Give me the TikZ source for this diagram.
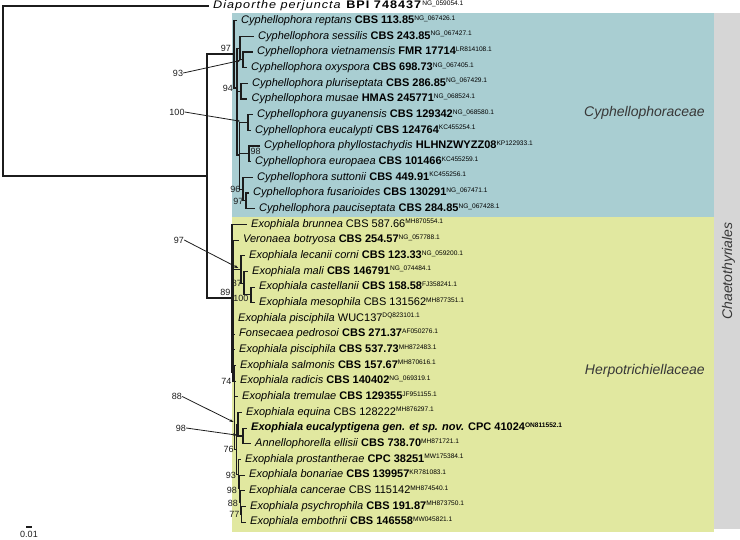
\documentclass[tikz,border=0pt]{standalone}
\usepackage{fontspec}
\setmainfont{Liberation Sans}
\usepackage{xcolor}
\usepackage{tikz}
\usetikzlibrary{arrows.meta}
\definecolor{cyphblue}{HTML}{A9CED2}
\definecolor{herpoyellow}{HTML}{E1E8A0}
\definecolor{ordergrey}{HTML}{D6D6D6}
\definecolor{treeblack}{HTML}{1C1C1C}
\newcommand{\gbAcc}[1]{\raisebox{3.3pt}{\fontsize{6.6}{7}\selectfont #1}}
\newcommand{\taxonB}[3]{\textit{#1} \textbf{#2}\gbAcc{#3}}
\newcommand{\taxonR}[3]{\textit{#1} #2\gbAcc{#3}}

\begin{document}
\begin{tikzpicture}[x=1pt, y=-1pt,
  branch/.style={draw=treeblack, line width=1.1pt},
  tip/.style={anchor=west, inner xsep=4.5pt, inner ysep=0pt, text height=8pt, text depth=2.5pt,
              font=\fontsize{11}{13}\selectfont},
  bsv/.style={inner sep=0pt, font=\fontsize{9}{10}\selectfont, text=treeblack},
  ldr/.style={draw=treeblack, line width=0.8pt, -{Stealth[length=4pt,width=3pt]}},
  clade/.style={inner sep=0pt, font=\fontsize{14}{16}\selectfont\itshape, text=black!78}]
  \useasboundingbox (0,0) rectangle (740,539);

  \fill[cyphblue] (232,12.5) rectangle (714,216.5);
  \fill[herpoyellow] (232,216.5) rectangle (714,531.5);
  \fill[ordergrey] (714,12.5) rectangle (740,529);
  \node[clade, anchor=east] (labCyph) at (705,113) {Cyphellophoraceae};
  \node[clade, anchor=east] (labHerpo) at (705,371) {Herpotrichiellaceae};
  \node[clade, rotate=90] (labChaeto) at (728.5,271) {Chaetothyriales};

  % internal nodes
  \coordinate (nRoot) at (3,90);
  \coordinate (nChaeto) at (207,176);
  \coordinate (nCyph) at (234,54);
  \coordinate (nCypR) at (237,88);
  \coordinate (nSes) at (240,48.1);
  \coordinate (nVO) at (243,59.9);
  \coordinate (nPM) at (241,91.2);
  \coordinate (nCypS) at (239.5,155);
  \coordinate (nGE) at (248,122.5);
  \coordinate (nPE) at (249,153.9);
  \coordinate (nSFP) at (243,189.1);
  \coordinate (nFP) at (246,200.9);
  \coordinate (nHerpo) at (232,298);
  \coordinate (nHZ) at (233,372);
  \coordinate (nL97) at (241,269.4);
  \coordinate (n87) at (244,283.1);
  \coordinate (nCM) at (251,294.9);
  \coordinate (n74) at (234.5,381.1);
  \coordinate (n76) at (236.5,449.2);
  \coordinate (n88) at (238,424.2);
  \coordinate (nEE) at (243,436);
  \coordinate (n93) at (238.5,474.1);
  \coordinate (n98) at (239.5,488.8);
  \coordinate (n88b) at (240.5,502.5);
  \coordinate (n77) at (241.5,514.3);

  % tips
  \node[tip] (tDiap) at (208.5,6)
    {\scalebox{1.15}[1]{\addfontfeatures{LetterSpace=8}\textit{Diaporthe perjuncta} \textbf{BPI 748437}}\gbAcc{NG\_059054.1}};
  \node[tip] (tReptans) at (236.5,20.7) {\taxonB{Cyphellophora reptans}{CBS 113.85}{NG\_067426.1}};
  \node[tip] (tSessilis) at (253.5,36.3) {\taxonB{Cyphellophora sessilis}{CBS 243.85}{NG\_067427.1}};
  \node[tip] (tVietnam) at (252.5,52) {\taxonB{Cyphellophora vietnamensis}{FMR 17714}{LR814108.1}};
  \node[tip] (tOxyspora) at (246.5,67.7) {\taxonB{Cyphellophora oxyspora}{CBS 698.73}{NG\_067405.1}};
  \node[tip] (tPlurisep) at (247.5,83.4) {\taxonB{Cyphellophora pluriseptata}{CBS 286.85}{NG\_067429.1}};
  \node[tip] (tMusae) at (247,99) {\taxonB{Cyphellophora musae}{HMAS 245771}{NG\_068524.1}};
  \node[tip] (tGuyan) at (252.5,114.7) {\taxonB{Cyphellophora guyanensis}{CBS 129342}{NG\_068580.1}};
  \node[tip] (tEucalypti) at (250.5,130.4) {\taxonB{Cyphellophora eucalypti}{CBS 124764}{KC455254.1}};
  \node[tip] (tPhyllo) at (259.5,146) {\taxonB{Cyphellophora phyllostachydis}{HLHNZWYZZ08}{KP122933.1}};
  \node[tip] (tEuropaea) at (250.5,161.7) {\taxonB{Cyphellophora europaea}{CBS 101466}{KC455259.1}};
  \node[tip] (tSuttonii) at (252.5,177.4) {\taxonB{Cyphellophora suttonii}{CBS 449.91}{KC455256.1}};
  \node[tip] (tFusar) at (248.5,193) {\taxonB{Cyphellophora fusarioides}{CBS 130291}{NG\_067471.1}};
  \node[tip] (tPauci) at (254.5,208.7) {\taxonB{Cyphellophora pauciseptata}{CBS 284.85}{NG\_067428.1}};
  \node[tip] (tBrunnea) at (246.5,224.4) {\taxonR{Exophiala brunnea}{CBS 587.66}{MH870554.1}};
  \node[tip] (tBotryosa) at (238.5,240.1) {\taxonB{Veronaea botryosa}{CBS 254.57}{NG\_057788.1}};
  \node[tip] (tLecanii) at (244.5,255.7) {\taxonB{Exophiala lecanii corni}{CBS 123.33}{NG\_059200.1}};
  \node[tip] (tMali) at (247.5,271.4) {\taxonB{Exophiala mali}{CBS 146791}{NG\_074484.1}};
  \node[tip] (tCastel) at (254.5,287.1) {\taxonB{Exophiala castellanii}{CBS 158.58}{FJ358241.1}};
  \node[tip] (tMesoph) at (254.5,302.7) {\taxonR{Exophiala mesophila}{CBS 131562}{MH877351.1}};
  \node[tip] (tPiscW) at (233.5,318.4) {\taxonR{Exophiala pisciphila}{WUC137}{DQ823101.1}};
  \node[tip] (tPedros) at (234.5,334.1) {\taxonB{Fonsecaea pedrosoi}{CBS 271.37}{AF050276.1}};
  \node[tip] (tPiscC) at (234.5,349.7) {\taxonB{Exophiala pisciphila}{CBS 537.73}{MH872483.1}};
  \node[tip] (tSalmon) at (235.5,365.4) {\taxonB{Exophiala salmonis}{CBS 157.67}{MH870616.1}};
  \node[tip] (tRadicis) at (235.5,381.1) {\taxonB{Exophiala radicis}{CBS 140402}{NG\_069319.1}};
  \node[tip] (tTremul) at (237.5,396.8) {\taxonB{Exophiala tremulae}{CBS 129355}{JF951155.1}};
  \node[tip] (tEquina) at (241.5,412.4) {\taxonR{Exophiala equina}{CBS 128222}{MH876297.1}};
  \node[tip] (tEucalyp) at (246.5,428.1)
    {\textbf{\textit{Exophiala eucalyptigena gen. et sp. nov.} CPC 41024}\gbAcc{\textbf{ON811552.1}}};
  \node[tip] (tEllisii) at (250.5,443.8) {\taxonB{Annellophorella ellisii}{CBS 738.70}{MH871721.1}};
  \node[tip] (tProst) at (240.5,459.4) {\taxonB{Exophiala prostantherae}{CPC 38251}{MW175384.1}};
  \node[tip] (tBonar) at (244.5,475.1) {\taxonB{Exophiala bonariae}{CBS 139957}{KR781083.1}};
  \node[tip] (tCancer) at (244.5,490.8) {\taxonR{Exophiala cancerae}{CBS 115142}{MH874540.1}};
  \node[tip] (tPsychro) at (245.5,506.4) {\taxonB{Exophiala psychrophila}{CBS 191.87}{MH873750.1}};
  \node[tip] (tEmboth) at (245.5,522.1) {\taxonB{Exophiala embothrii}{CBS 146558}{MW045821.1}};

  % branches
  \foreach \p/\c in {nRoot/tDiap.west, nRoot/nChaeto, nChaeto/nCyph, nChaeto/nHerpo,
      nCyph/tReptans.west, nCyph/nCypR, nCypR/nSes, nCypR/nPM, nCypR/nCypS,
      nSes/tSessilis.west, nSes/nVO, nVO/tVietnam.west, nVO/tOxyspora.west,
      nPM/tPlurisep.west, nPM/tMusae.west, nCypS/nGE, nCypS/nPE, nCypS/nSFP,
      nGE/tGuyan.west, nGE/tEucalypti.west, nPE/tPhyllo.west, nPE/tEuropaea.west,
      nSFP/tSuttonii.west, nSFP/nFP, nFP/tFusar.west, nFP/tPauci.west,
      nHerpo/tBrunnea.west, nHerpo/nHZ, nHZ/tBotryosa.west, nHZ/nL97, nHZ/tPiscW.west,
      nHZ/tPedros.west, nHZ/tPiscC.west, nHZ/n74,
      nL97/tLecanii.west, nL97/n87, n87/tMali.west, n87/nCM, nCM/tCastel.west, nCM/tMesoph.west,
      n74/tSalmon.west, n74/tRadicis.west, n74/tTremul.west, n74/n76,
      n76/n88, n76/n93, n88/tEquina.west, n88/nEE, nEE/tEucalyp.west, nEE/tEllisii.west,
      n93/tProst.west, n93/n98, n98/tBonar.west, n98/n88b, n88b/tCancer.west, n88b/n77,
      n77/tPsychro.west, n77/tEmboth.west}
    \draw[branch] (\p) |- (\c);

  % support values
  \node[bsv, anchor=south east] (b97c) at (231,52) {97};
  \node[bsv, anchor=south east] (b89) at (230.5,296) {89};
  \node[bsv, anchor=east] (b94) at (233,88) {94};
  \node[bsv, anchor=north west] (b98c) at (250.5,148) {98};
  \node[bsv, anchor=east] (b96) at (240.5,189) {96};
  \node[bsv, anchor=east] (b97f) at (243.5,201) {97};
  \node[bsv, anchor=east] (b87) at (242,283) {87};
  \node[bsv, anchor=east] (b100) at (248.5,298) {100};
  \node[bsv, anchor=east] (b74) at (231.5,381) {74};
  \node[bsv, anchor=east] (b76) at (233.8,449) {76};
  \node[bsv, anchor=east] (b93) at (236,475) {93};
  \node[bsv, anchor=east] (b98h) at (237,490) {98};
  \node[bsv, anchor=east] (b88h) at (238,503) {88};
  \node[bsv, anchor=east] (b77) at (239.5,514) {77};

  \node[bsv] (l93) at (178,73) {93};
  \node[bsv] (l100) at (177,112) {100};
  \node[bsv] (l97) at (179,240) {97};
  \node[bsv] (l88) at (177,396.5) {88};
  \node[bsv] (l98) at (181,428) {98};
  \draw[ldr, shorten >=2.5pt] (l93.east) -- (nVO);
  \draw[ldr, shorten >=8pt] (l100.east) -- (nGE);
  \draw[ldr, shorten >=3pt] (l97.east) -- (nL97);
  \draw[ldr, shorten >=5pt] (l88.east) -- (n88);
  \draw[ldr, shorten >=6pt] (l98.east) -- (nEE);

  % scale bar
  \coordinate (sbL) at (26,527);
  \coordinate (sbR) at (32,527);
  \draw[branch] (sbL) -- (sbR);
  \node[bsv] (sbLab) at (29,534) {0.01};
\end{tikzpicture}
\end{document}
